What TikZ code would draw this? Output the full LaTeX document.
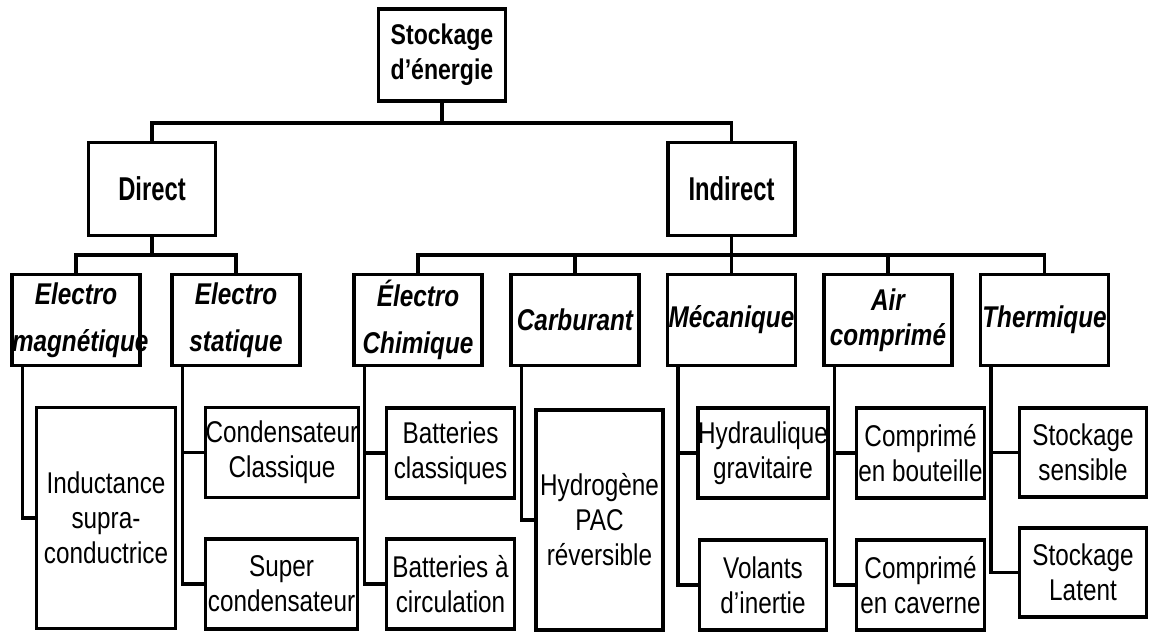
\documentclass[tikz,border=0pt]{standalone}
\usepackage{fontspec}
\setmainfont{Liberation Sans}[FakeStretch=0.81]
\newfontfamily\tallfont{Liberation Sans}[FakeStretch=0.72]
\usetikzlibrary{calc}
\tikzset{
  frame/.style={draw, line width=3.4pt, inner sep=0pt, align=center},
  conn/.style={line width=3.4pt},
  rootbox/.style={frame, font=\fontsize{28.5}{35}\selectfont\bfseries, minimum width=127pt, minimum height=92pt},
  midbox/.style={frame, font=\tallfont\fontsize{33}{38}\selectfont\bfseries, minimum width=127pt, minimum height=93pt},
  catbox/.style={frame, font=\fontsize{30}{35}\selectfont\bfseries\itshape, text width=128pt, minimum height=91pt},
  catwide/.style={catbox, font=\fontsize{30}{47}\selectfont\bfseries\itshape},
  leaf/.style={frame, font=\fontsize{30}{35}\selectfont, minimum width=127pt, minimum height=90pt},
}
\begin{document}
\begin{tikzpicture}[x=1pt,y=-1pt]
\useasboundingbox (0,0) rectangle (1152,632);
% level 1-2
\node[rootbox] (root) at (442,55) {Stockage\\d’énergie};
\node[midbox] (direct) at (152,189) {Direct};
\node[midbox] (indirect) at (731.5,189) {Indirect};
% level 3
\node[catwide] (em) at (76,320) {Electro\\magnétique};
\node[catwide] (es) at (236,320) {Electro\\statique};
\node[catwide] (ec) at (418,320) {Électro\\Chimique};
\node[catbox] (carb) at (575,320) {Carburant};
\node[catbox] (meca) at (731.5,320) {Mécanique};
\node[catbox] (air) at (888,320) {Air\\comprimé};
\node[catbox] (therm) at (1044.5,320) {Thermique};
% leaves
\node[leaf, minimum width=139pt, minimum height=221pt] (induct) at (106,518) {Inductance\\supra-\\conductrice};
\node[leaf, minimum width=153pt] (condcl) at (282,452.5) {Condensateur\\Classique};
\node[leaf, minimum width=152pt] (supercond) at (281.5,584) {Super\\condensateur};
\node[leaf, minimum width=128pt] (battcl) at (450.5,453) {Batteries\\classiques};
\node[leaf, minimum width=128pt] (battcirc) at (450.5,584) {Batteries à\\circulation};
\node[leaf, minimum height=220pt] (hydro) at (599.5,520) {Hydrogène\\PAC\\réversible};
\node[leaf] (hydraul) at (763,453) {Hydraulique\\gravitaire};
\node[leaf] (volants) at (763,585) {Volants\\d’inertie};
\node[leaf, minimum width=128pt] (bouteille) at (920.5,453) {Comprimé\\en bouteille};
\node[leaf, minimum width=128pt] (caverne) at (920.5,585) {Comprimé\\en caverne};
\node[leaf, minimum height=89pt] (sensible) at (1083,452.5) {Stockage\\sensible};
\node[leaf, minimum height=89pt] (latent) at (1083,572.5) {Stockage\\Latent};
% buses
\coordinate (b1) at (0,123);
\coordinate (b2) at (0,255);
\draw[conn] (direct.north) -- (direct.north |- b1) -- (indirect.north |- b1) -- (indirect.north);
\draw[conn] (root.south) -- (root.south |- b1);
\draw[conn] (em.north) -- (em.north |- b2) -- (es.north |- b2) -- (es.north);
\draw[conn] (direct.south) -- (direct.south |- b2);
\draw[conn] (ec.north) -- (ec.north |- b2) -- (therm.north |- b2) -- (therm.north);
\draw[conn] (indirect.south) -- (meca.north);
\draw[conn] (carb.north) -- (carb.north |- b2);
\draw[conn] (air.north) -- (air.north |- b2);
% category to leaves
\draw[conn] ($(em.south west)+(12,0)$) |- (induct.west);
\draw[conn] ($(es.south west)+(12,0)$) |- (condcl.west);
\draw[conn] ($(es.south west)+(12,0)$) |- (supercond.west);
\draw[conn] ($(ec.south west)+(12,0)$) |- (battcl.west);
\draw[conn] ($(ec.south west)+(12,0)$) |- (battcirc.west);
\draw[conn] ($(carb.south west)+(12,0)$) |- (hydro.west);
\draw[conn] ($(meca.south west)+(12,0)$) |- (hydraul.west);
\draw[conn] ($(meca.south west)+(12,0)$) |- (volants.west);
\draw[conn] ($(air.south west)+(12,0)$) |- (bouteille.west);
\draw[conn] ($(air.south west)+(12,0)$) |- (caverne.west);
\draw[conn] ($(therm.south west)+(12,0)$) |- (sensible.west);
\draw[conn] ($(therm.south west)+(12,0)$) |- (latent.west);
\end{tikzpicture}
\end{document}
